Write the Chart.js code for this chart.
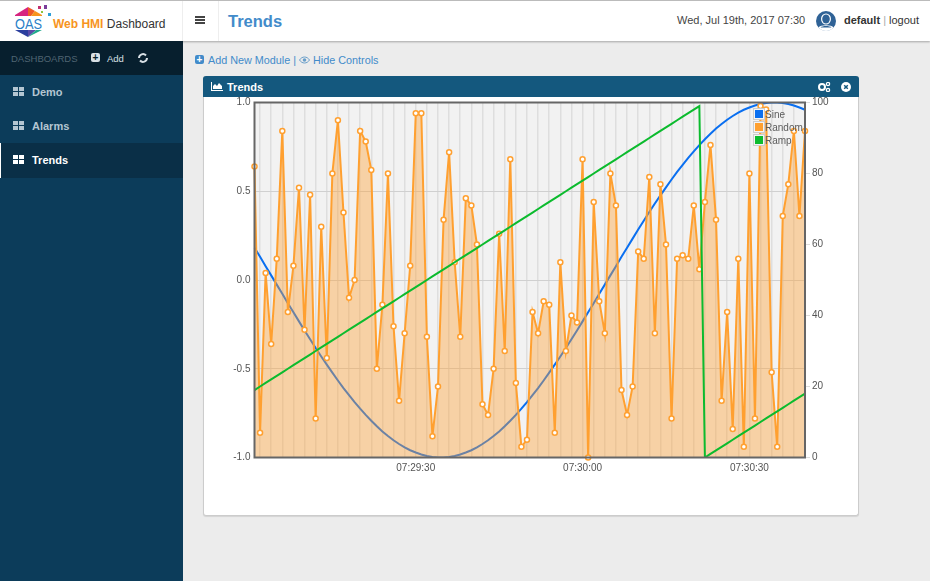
<!DOCTYPE html>
<html>
<head>
<meta charset="utf-8">
<title>Trends</title>
<script src="https://cdn.jsdelivr.net/npm/chart.js@4/dist/chart.umd.js"></script>
<style>
html, body { margin: 0; padding: 0; width: 930px; height: 581px; overflow: hidden; background: #ececec; font-family: "Liberation Sans", Arial, sans-serif; }
.abs { position: absolute; }
#topbar { left: 0; top: 0; width: 930px; height: 41px; background: #fff; border-top: 1px solid #bbb; box-sizing: border-box; box-shadow: 0 1px 2px rgba(0,0,0,.3); }
#sidebar { left: 0; top: 41px; width: 183px; height: 540px; background: #0c3c5a; }
#sideHead { left: 0; top: 0; width: 183px; height: 34px; background: #071f2e; }
.nav { left: 0; width: 183px; height: 34px; line-height: 34px; font-size: 11px; font-weight: bold; color: #b4c6d2; }
.nav span { position: absolute; left: 32px; }
.nav.active { background: #0a2f47; color: #fff; box-sizing: border-box; border-left: 1px solid #fff; height: 35px; }
.nav svg { position: absolute; left: 13px; top: 12px; }
#panel { left: 203px; top: 76px; width: 656px; height: 440px; box-sizing: border-box; background: #fff; border: 1px solid #ccc; border-top: none; border-radius: 3px; box-shadow: 0 1px 1px rgba(0,0,0,.1); }
#panelHead { left: 203px; top: 76px; width: 656px; height: 21px; background: #14587e; border-radius: 3px 3px 0 0; color: #fff; font-size: 11px; font-weight: bold; line-height: 21px; }
#chartBox { left: 204px; top: 97px; width: 654px; height: 418px; }
#legend { left: 753px; top: 108px; font-size: 10px; color: #5c5c5c; }
#legend div { position: relative; height: 13px; line-height: 13px; padding-left: 12px; }
#legend i { position: absolute; left: 2px; top: 2px; width: 8px; height: 8px; box-shadow: 0 0 0 1px #f4f4f4, 0 0 0 2px #ccc; }
</style>
</head>
<body>
<div id="topbar" class="abs"></div>
<svg class="abs" style="left:14px;top:5px" width="38" height="33" viewBox="0 0 38 33">
  <polygon points="1,10 14,2 14,11 1,11" fill="#d6247f"/>
  <polygon points="14,2 21,6 17,11 14,11" fill="#ef5a28"/>
  <polygon points="21,6 28,10 28,11 17,11" fill="#f7941e"/>
  <polygon points="1,25 14,25 14,32" fill="#2b3f9e"/>
  <polygon points="14,25 22,25 14,32" fill="#5a49a8"/>
  <polygon points="22,25 28,25 14,32" fill="#1fa98c"/>
  <rect x="24" y="1" width="3" height="3" fill="#c2306f"/>
  <rect x="30" y="0" width="3" height="4" fill="#7a3d9a"/>
  <rect x="34" y="8" width="3" height="3" fill="#2d9fd8"/>
  <rect x="27" y="6" width="2" height="2" fill="#8cc63f"/>
  <text x="1" y="24" font-family="Liberation Sans" font-size="15" textLength="27" lengthAdjust="spacingAndGlyphs" fill="#2a80c8">OAS</text>
</svg>
<div class="abs" style="left:53px;top:17px;font-size:12px;white-space:nowrap"><b style="color:#f7941e">Web HMI</b> <span style="color:#333">Dashboard</span></div>
<div class="abs" style="left:182px;top:1px;width:35px;height:40px;border-left:1px solid #eee;border-right:1px solid #eee"></div>
<div class="abs" style="left:195px;top:16px;width:10px;height:2px;background:#444;box-shadow:0 3px 0 #444,0 6px 0 #444"></div>
<div class="abs" style="left:228px;top:12px;font-size:16.500px;font-weight:bold;color:#428bca">Trends</div>
<div class="abs" style="left:677px;top:14px;font-size:11px;color:#444;white-space:nowrap">Wed, Jul 19th, 2017 07:30</div>
<svg class="abs" style="left:816px;top:11px" width="20" height="20" viewBox="0 0 20 20">
  <circle cx="10" cy="10" r="10" fill="#2f6296"/>
  <path d="M2.500 16.500 C4 13.500 16 13.500 17.500 16.500 C14 21 6 21 2.500 16.500Z" fill="#fff"/>
  <path d="M4.500 16.500 C6 14.500 14 14.500 15.500 16.500 Z" fill="#2f6296"/>
  <ellipse cx="10" cy="8" rx="5" ry="5.500" fill="#fff"/>
  <ellipse cx="10" cy="8" rx="3.800" ry="4.500" fill="#2f6296"/>
</svg>
<div class="abs" style="left:844px;top:14px;font-size:11px;color:#333;white-space:nowrap"><b>default</b> <span style="color:#aaa">|</span> logout</div>

<div id="sidebar" class="abs">
  <div id="sideHead" class="abs"></div>
  <div class="abs" style="left:11px;top:12px;font-size:9.500px;color:#4f6472">DASHBOARDS</div>
  <div class="abs" style="left:91px;top:12px;width:9px;height:9px;background:#d8e0e5;border-radius:2px;color:#071f2e;font:bold 10px/9px 'Liberation Sans';text-align:center">+</div>
  <div class="abs" style="left:107px;top:12px;font-size:9.500px;color:#d8e0e5">Add</div>
  <svg class="abs" style="left:138px;top:12px" width="10" height="10" viewBox="0 0 10 10"><path d="M1 5a4 4 0 0 1 7-2.500M9 5a4 4 0 0 1-7 2.500" fill="none" stroke="#d8e0e5" stroke-width="2"/></svg>
  <div class="abs nav" style="top:34px"><svg width="11" height="9"><path d="M0 0h5v4H0zM6 0h5v4H6zM0 5h5v4H0zM6 5h5v4H6z" fill="#b4c6d2"/></svg><span>Demo</span></div>
  <div class="abs nav" style="top:68px"><svg width="11" height="9"><path d="M0 0h5v4H0zM6 0h5v4H6zM0 5h5v4H0zM6 5h5v4H6z" fill="#b4c6d2"/></svg><span>Alarms</span></div>
  <div class="abs nav active" style="top:102px"><svg width="11" height="9" style="left:12px"><path d="M0 0h5v4H0zM6 0h5v4H6zM0 5h5v4H0zM6 5h5v4H6z" fill="#fff"/></svg><span style="left:31px">Trends</span></div>
</div>

<div class="abs" style="left:195px;top:55px;width:9px;height:9px;background:#428bca;border-radius:2px;color:#fff;font:bold 10px/9px 'Liberation Sans';text-align:center">+</div>
<div class="abs" style="left:208px;top:54px;font-size:10.800px;color:#428bca;white-space:nowrap">Add New Module | <svg width="11" height="8" viewBox="0 0 11 8"><path d="M0.500 4C3 0 8 0 10.500 4C8 8 3 8 0.500 4Z" fill="none" stroke="#6a9fca"/><circle cx="5.500" cy="4" r="1.800" fill="#6a9fca"/></svg> Hide Controls</div>

<div id="panel" class="abs"></div>
<div id="panelHead" class="abs">
  <svg class="abs" style="left:8px;top:6px" width="12" height="9" viewBox="0 0 12 9"><path d="M0 0h1v8h11v1H0z M2 7V4l2-2 2 2 2-3 3 3v3z" fill="#fff"/></svg>
  <span class="abs" style="left:24px;top:1px;white-space:nowrap">Trends</span>
  <svg class="abs" style="left:615px;top:6px" width="13" height="10" viewBox="0 0 13 10"><circle cx="4" cy="5" r="3" fill="none" stroke="#fff" stroke-width="2"/><circle cx="10" cy="2" r="1.600" fill="none" stroke="#fff" stroke-width="1.300"/><circle cx="10" cy="8" r="1.600" fill="none" stroke="#fff" stroke-width="1.300"/></svg>
  <svg class="abs" style="left:638px;top:6px" width="10" height="10" viewBox="0 0 10 10"><circle cx="5" cy="5" r="5" fill="#fff"/><path d="M3.200 3.200l3.600 3.600M6.800 3.200l-3.600 3.600" stroke="#14587e" stroke-width="1.500"/></svg>
</div>

<div id="chartBox" class="abs"><canvas id="trendChart" width="654" height="418"></canvas></div>
<div id="legend" class="abs"></div>

<script>
const timeLabels = [
  '07:29:01','07:29:02','07:29:03','07:29:04','07:29:05','07:29:06','07:29:07','07:29:08','07:29:09','07:29:10',
  '07:29:11','07:29:12','07:29:13','07:29:14','07:29:15','07:29:16','07:29:17','07:29:18','07:29:19','07:29:20',
  '07:29:21','07:29:22','07:29:23','07:29:24','07:29:25','07:29:26','07:29:27','07:29:28','07:29:29','07:29:30',
  '07:29:31','07:29:32','07:29:33','07:29:34','07:29:35','07:29:36','07:29:37','07:29:38','07:29:39','07:29:40',
  '07:29:41','07:29:42','07:29:43','07:29:44','07:29:45','07:29:46','07:29:47','07:29:48','07:29:49','07:29:50',
  '07:29:51','07:29:52','07:29:53','07:29:54','07:29:55','07:29:56','07:29:57','07:29:58','07:29:59','07:30:00',
  '07:30:01','07:30:02','07:30:03','07:30:04','07:30:05','07:30:06','07:30:07','07:30:08','07:30:09','07:30:10',
  '07:30:11','07:30:12','07:30:13','07:30:14','07:30:15','07:30:16','07:30:17','07:30:18','07:30:19','07:30:20',
  '07:30:21','07:30:22','07:30:23','07:30:24','07:30:25','07:30:26','07:30:27','07:30:28','07:30:29','07:30:30',
  '07:30:31','07:30:32','07:30:33','07:30:34','07:30:35','07:30:36','07:30:37','07:30:38','07:30:39','07:30:40'
];

const sineValues = [
  0.182,0.131,0.078,0.026,-0.026,-0.078,-0.131,-0.182,-0.233,-0.284,
  -0.334,-0.383,-0.431,-0.477,-0.522,-0.566,-0.609,-0.649,-0.688,-0.725,
  -0.760,-0.793,-0.824,-0.853,-0.879,-0.903,-0.924,-0.943,-0.959,-0.972,
  -0.983,-0.991,-0.997,-1.000,-1.000,-0.997,-0.991,-0.983,-0.972,-0.959,
  -0.943,-0.924,-0.903,-0.879,-0.853,-0.824,-0.793,-0.760,-0.725,-0.688,
  -0.649,-0.609,-0.566,-0.522,-0.477,-0.431,-0.383,-0.334,-0.284,-0.233,
  -0.182,-0.131,-0.078,-0.026,0.026,0.078,0.131,0.182,0.233,0.284,
  0.334,0.383,0.431,0.477,0.522,0.566,0.609,0.649,0.688,0.725,
  0.760,0.793,0.824,0.853,0.879,0.903,0.924,0.943,0.959,0.972,
  0.983,0.991,0.997,1.000,1.000,0.997,0.991,0.983,0.972,0.959
];

const randomValues = [
  82,7,52,32,56,92,41,54,76,36,
  74,11,65,28,80,95,69,45,50,92,
  89,81,25,43,80,37,16,35,54,97,
  97,34,6,20,67,86,55,34,73,71,
  60,15,12,25,63,30,84,21,3,5,
  41,35,44,43,7,55,30,40,38,84,
  0,72,44,35,80,71,19,12,20,58,
  56,79,35,77,60,11,56,57,56,71,
  53,72,88,67,16,41,8,56,3,80,
  11,99,98,24,3,68,77,92,68,92
];

const rampValues = [
  19,20,21,22,23,24,25,26,27,28,
  29,30,31,32,33,34,35,36,37,38,
  39,40,41,42,43,44,45,46,47,48,
  49,50,51,52,53,54,55,56,57,58,
  59,60,61,62,63,64,65,66,67,68,
  69,70,71,72,73,74,75,76,77,78,
  79,80,81,82,83,84,85,86,87,88,
  89,90,91,92,93,94,95,96,97,98,
  99,0,1,2,3,4,5,6,7,8,
  9,10,11,12,13,14,15,16,17,18
];

const seriesNames = ['Sine', 'Random', 'Ramp'];
const seriesColors = ['#0a6ff0', '#ffa030', '#0cbb2e'];
const leftTicks = [-1, -0.5, 0, 0.5, 1];
const rightTicks = [0, 20, 40, 60, 80, 100];

// fond et cadre de la zone de tracé
const plotFrame = {
    id: 'plotFrame',
    beforeDraw(chart) {
        const a = chart.chartArea;
        chart.ctx.fillStyle = '#f2f2f2';
        chart.ctx.fillRect(a.left, a.top, a.right - a.left, a.bottom - a.top);
    },
    afterDraw(chart) {
        const a = chart.chartArea;
        chart.ctx.strokeStyle = '#666';
        chart.ctx.lineWidth = 2;
        chart.ctx.strokeRect(a.left, a.top, a.right - a.left, a.bottom - a.top);
    }
};

const tickFont = { family: "'Liberation Sans', Arial, sans-serif", size: 10 };

// pas de marge automatique pour les libellés : la zone de tracé reste fixe
const fixBox = (s, w, h) => {
    s.paddingTop = 0;
    s.paddingBottom = 0;
    s.paddingLeft = 0;
    s.paddingRight = 0;
    if (w) s.width = w;
    if (h) s.height = h;
};

new Chart(document.getElementById('trendChart'), {
    type: 'line',
    data: {
        labels: timeLabels,
        datasets: [
            { label: seriesNames[0], data: sineValues, yAxisID: 'yLeft', borderColor: seriesColors[0], borderWidth: 2, pointRadius: 0, order: 3 },
            { label: seriesNames[1], data: randomValues, yAxisID: 'yRight', borderColor: seriesColors[1], borderWidth: 2,
              fill: 'start', backgroundColor: 'rgba(255,160,50,0.4)', clip: false,
              pointRadius: 2.5, pointBorderWidth: 1.5, pointBackgroundColor: '#fff', pointBorderColor: seriesColors[1], order: 2 },
            { label: seriesNames[2], data: rampValues, yAxisID: 'yRight', borderColor: seriesColors[2], borderWidth: 2, pointRadius: 0, order: 1 }
        ]
    },
    options: {
        responsive: false,
        animation: false,
        layout: { padding: { top: 5.5 } },
        plugins: { legend: { display: false }, tooltip: { enabled: false } },
        scales: {
            x: {
                type: 'category',
                afterFit: (s) => fixBox(s, 0, 57.5),
                border: { display: false },
                grid: {
                    drawTicks: false,
                    lineWidth: 1.5,
                    color: (c) => (c.index % 2 === 1 ? '#dedede' : 'rgba(0,0,0,0)')
                },
                ticks: {
                    autoSkip: false,
                    maxRotation: 0,
                    padding: 5,
                    color: '#545454',
                    font: tickFont,
                    callback(value, index) {
                        const t = timeLabels[index];
                        return t.endsWith(':00') || t.endsWith(':30') ? t : '';
                    }
                }
            },
            yLeft: {
                position: 'left',
                min: -1,
                max: 1,
                afterFit: (s) => fixBox(s, 50.5, 0),
                afterBuildTicks: (s) => { s.ticks = leftTicks.map((v) => ({ value: v })); },
                border: { display: false },
                grid: { drawTicks: false, color: '#d0d0d0' },
                ticks: { padding: 4, color: '#545454', font: tickFont, callback: (v) => v.toFixed(1) }
            },
            yRight: {
                position: 'right',
                min: 0,
                max: 100,
                afterFit: (s) => fixBox(s, 53, 0),
                afterBuildTicks: (s) => { s.ticks = rightTicks.map((v) => ({ value: v })); },
                border: { display: false },
                grid: { drawOnChartArea: false, tickLength: 5, tickColor: '#dddddd' },
                ticks: { padding: 2, color: '#545454', font: tickFont }
            }
        }
    },
    plugins: [plotFrame]
});

const legendBox = document.getElementById('legend');
seriesNames.forEach((name, i) => {
    const row = document.createElement('div');
    const swatch = document.createElement('i');
    swatch.style.backgroundColor = seriesColors[i];
    row.appendChild(swatch);
    row.appendChild(document.createTextNode(name));
    legendBox.appendChild(row);
});
</script>
</body>
</html>
